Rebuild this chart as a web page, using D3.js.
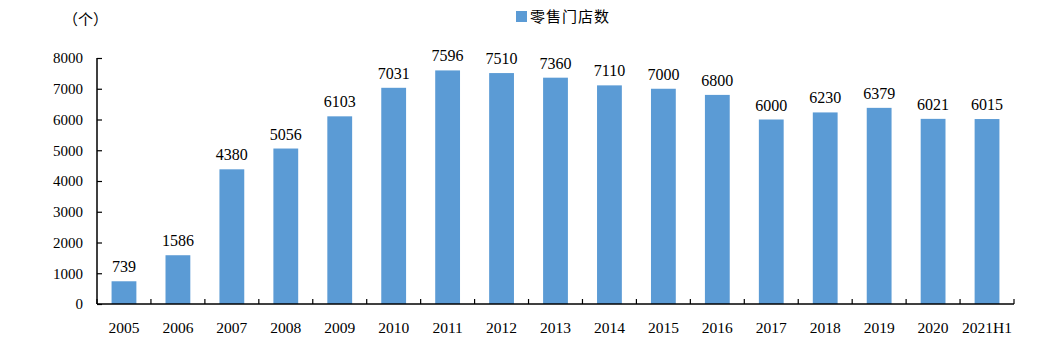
<!DOCTYPE html>
<html>
<head>
<meta charset="utf-8">
<script src="https://cdn.jsdelivr.net/npm/d3@7"></script>
<style>
  body { margin: 0; background: #fff; }
  svg text { font-family: "Liberation Serif", "Times New Roman", serif; fill: #000; }
  .cjk { font-family: "Noto Sans CJK SC", sans-serif; }
</style>
</head>
<body>
<svg id="chart" width="1056" height="354"></svg>
<script>
const categories = ['2005', '2006', '2007', '2008', '2009', '2010', '2011', '2012', '2013',
  '2014', '2015', '2016', '2017', '2018', '2019', '2020', '2021H1']
const storeCounts = [739, 1586, 4380, 5056, 6103, 7031, 7596, 7510, 7360,
  7110, 7000, 6800, 6000, 6230, 6379, 6021, 6015]
const yTicks = [0, 1000, 2000, 3000, 4000, 5000, 6000, 7000, 8000]
const seriesName = '零售门店数'
const unitLabel = '（个）'

const svg = d3.select('#chart')
const margin = { left: 97, right: 42, top: 58, bottom: 50 }
const width = 1056 - margin.left - margin.right
const height = 354 - margin.top - margin.bottom
const barColor = '#5b9bd5'

const g = svg.append('g').attr('transform', `translate(${margin.left},${margin.top})`)

const x = d3.scaleBand().domain(categories).range([0, width]).paddingInner(0.54).paddingOuter(0.27)
const y = d3.scaleLinear().domain([0, 8000]).range([height, 0])

// bars
g.selectAll('.bar')
  .data(categories)
  .enter()
  .append('rect')
  .attr('class', 'bar')
  .attr('x', d => x(d))
  .attr('width', x.bandwidth())
  .attr('y', (d, i) => y(storeCounts[i]))
  .attr('height', (d, i) => height - y(storeCounts[i]))
  .attr('fill', barColor)

// value labels
g.selectAll('.val')
  .data(categories)
  .enter()
  .append('text')
  .attr('x', d => x(d) + x.bandwidth() / 2)
  .attr('y', (d, i) => y(storeCounts[i]) - 9)
  .attr('text-anchor', 'middle')
  .style('font-size', '16px')
  .text((d, i) => storeCounts[i])

// y axis
const yAxis = g.append('g')
  .call(d3.axisLeft(y).tickValues(yTicks).tickFormat(d3.format('d')).tickSize(-5).tickPadding(14))
yAxis.select('.domain').attr('stroke', '#000').attr('stroke-width', 1.5).attr('d', `M0,${height}V0`)
yAxis.selectAll('.tick line').attr('stroke', '#000').attr('stroke-width', 1.2)
yAxis.selectAll('.tick text').style('font-size', '15px')

// x axis: ticks between categories
const xAxis = g.append('g').attr('transform', `translate(0,${height})`)
xAxis.append('line')
  .attr('x1', 0).attr('x2', width)
  .attr('stroke', '#000').attr('stroke-width', 1.5)
const boundaries = d3.range(categories.length + 1).map(i => i * width / categories.length)
xAxis.selectAll('.xtick')
  .data(boundaries)
  .enter()
  .append('line')
  .attr('x1', d => d).attr('x2', d => d)
  .attr('y1', 0).attr('y2', -5)
  .attr('stroke', '#000').attr('stroke-width', 1.2)
xAxis.selectAll('.xlabel')
  .data(categories)
  .enter()
  .append('text')
  .attr('x', d => x(d) + x.bandwidth() / 2)
  .attr('y', 29)
  .attr('text-anchor', 'middle')
  .style('font-size', '15.5px')
  .text(d => d)

// unit
svg.append('text')
  .attr('class', 'cjk')
  .attr('x', 63).attr('y', 25)
  .style('font-size', '15px')
  .text(unitLabel)

// legend
const legend = svg.append('g').attr('transform', 'translate(516,11)')
legend.append('rect').attr('width', 11).attr('height', 11).attr('fill', barColor)
legend.append('text')
  .attr('class', 'cjk')
  .attr('x', 14).attr('y', 10.5)
  .style('font-size', '15px')
  .style('letter-spacing', '1px')
  .text(seriesName)
</script>
</body>
</html>
